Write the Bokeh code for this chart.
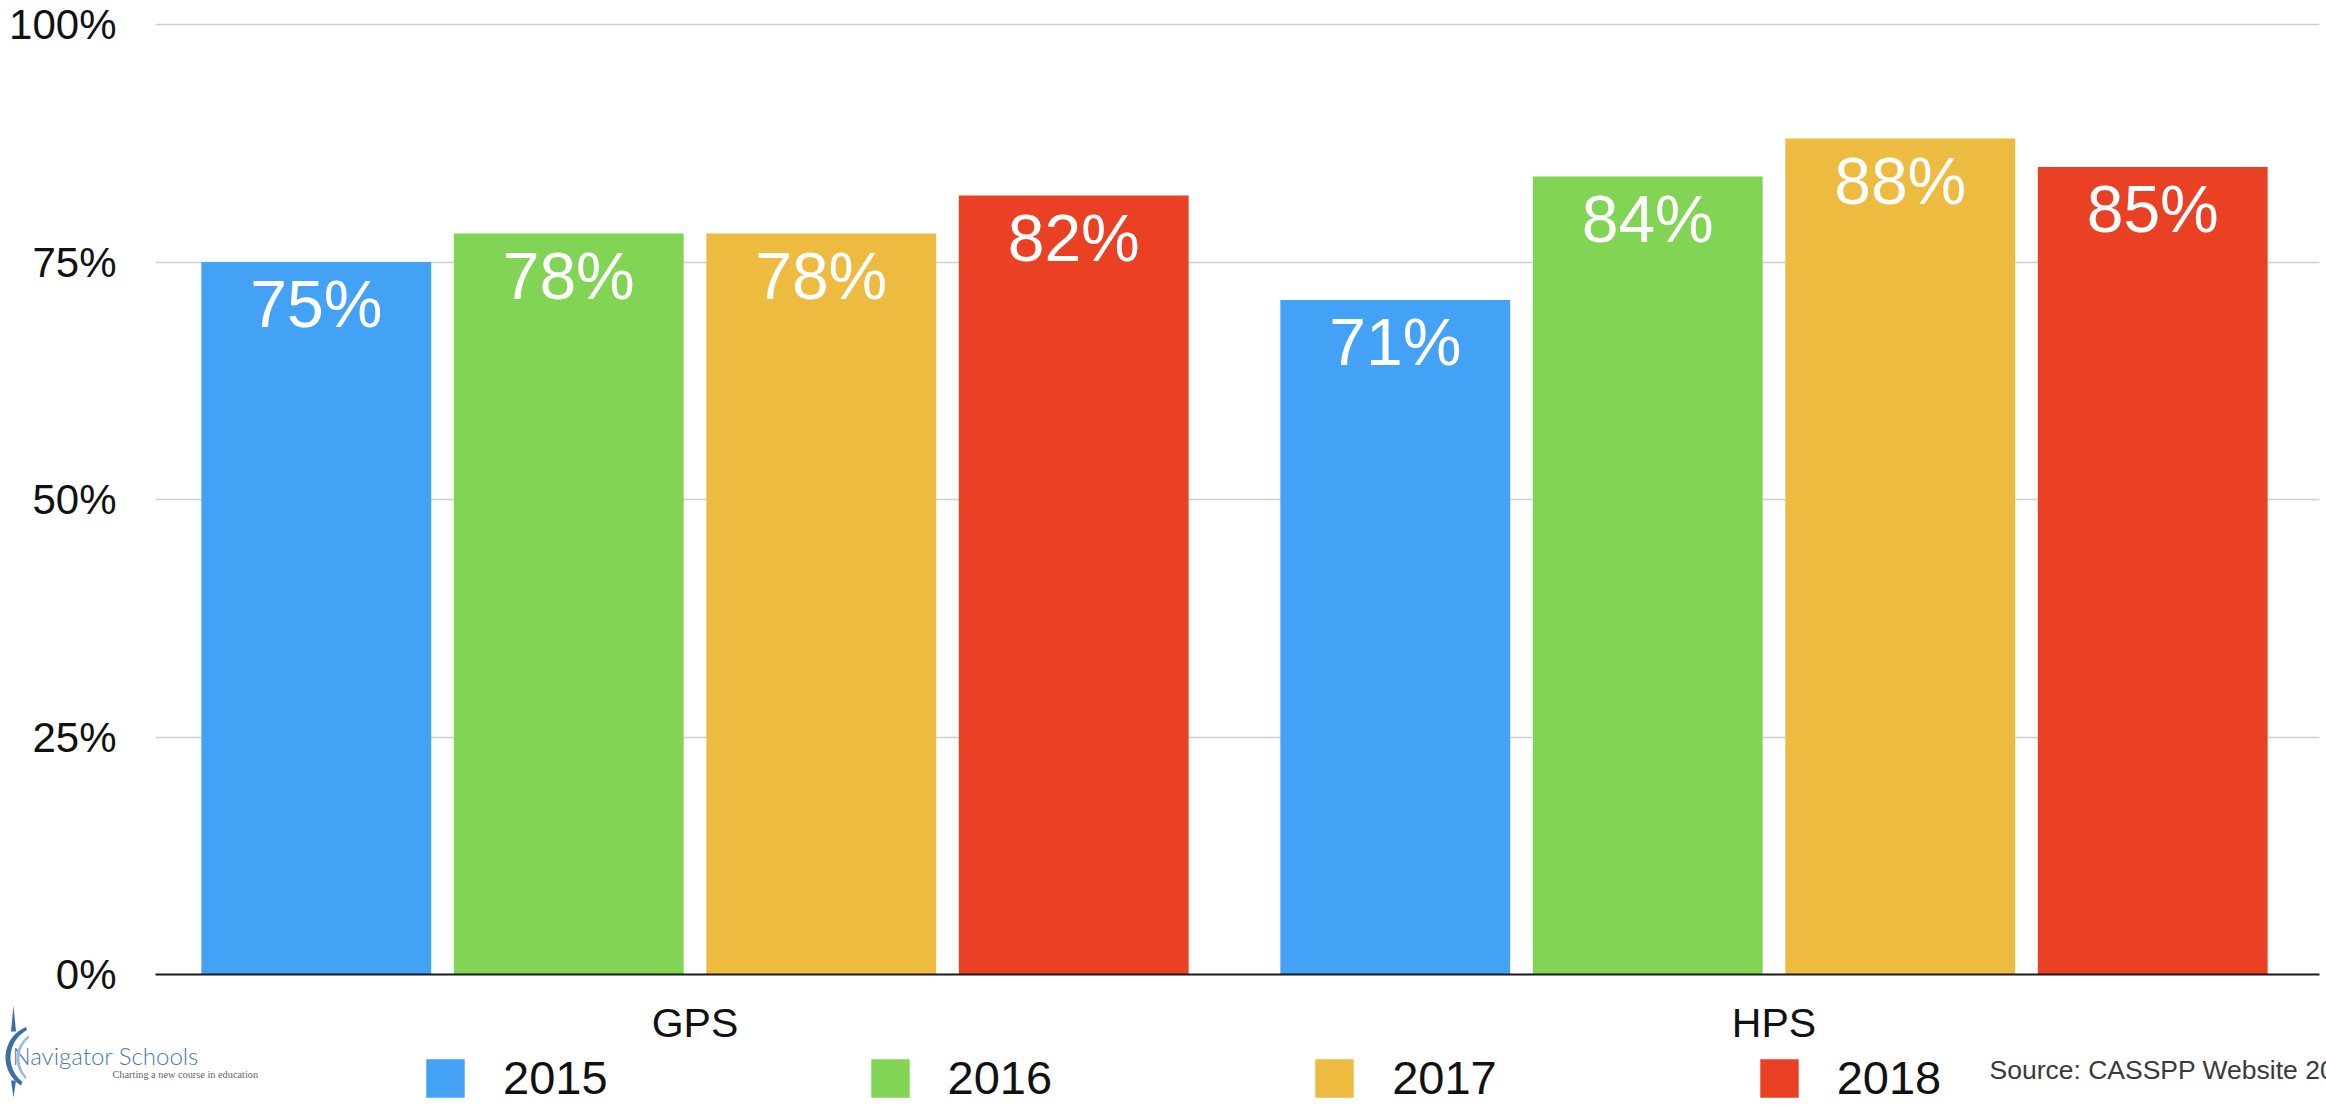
import numpy as np
from bokeh.plotting import figure
from bokeh.models import (Range1d, FixedTicker, PrintfTickFormatter,
                          Legend, LegendItem, Label, PolyAnnotation, ColumnDataSource)
from bokeh.transform import dodge
from bokeh.core.properties import value
from bokeh.embed import file_html
from bokeh.resources import INLINE

# ---- data ----
groups = ["GPS", "HPS"]
years = ["2015", "2016", "2017", "2018"]
pct_2015 = [75, 71]
pct_2016 = [78, 84]
pct_2017 = [78, 88]
pct_2018 = [82, 85]
y_ticks = [0, 25, 50, 75, 100]
source_note = "Source: CASSPP Website 2018"
logo_name = "Navigator Schools"
logo_tagline = "Charting a new course in education"

# ---- styles / layout ----
colors = ["#44A2F6", "#81D454", "#EDBB40", "#EA4125"]
offsets = [-0.351, -0.117, 0.117, 0.351]
FONT = "Liberation Sans"
W, H = 2326, 1107
X0_PX, UNIT_X = 155, 1079.0     # pixel of category-axis origin, px per category
Y0_PX, UNIT_Y = 974, 9.5        # pixel of 0 %, px per percent

p = figure(width=W, height=H,
           x_range=Range1d(-X0_PX / UNIT_X, (W - X0_PX) / UNIT_X),
           y_range=Range1d(-(H - Y0_PX) / UNIT_Y, Y0_PX / UNIT_Y),
           output_backend="svg", toolbar_location=None,
           min_border=0, min_border_left=0, min_border_right=0,
           min_border_top=0, min_border_bottom=0)
p.outline_line_color = None
p.background_fill_color = "white"
p.border_fill_color = "white"

centers = [i + 0.5 for i in range(len(groups))]
series = [pct_2015, pct_2016, pct_2017, pct_2018]
data = dict(gx=centers)
for yr, vals in zip(years, series):
    data["v" + yr] = vals
    data["t" + yr] = [f"{v}%" for v in vals]
src = ColumnDataSource(data)

items = []
for yr, col, off in zip(years, colors, offsets):
    r = p.vbar(x=dodge("gx", off), top="v" + yr, width=0.213,
               source=src, fill_color=col, line_color=None)
    p.text(x=dodge("gx", off), y="v" + yr, text="t" + yr, source=src,
           text_font=value(FONT), text_font_size="66px", text_color="white",
           text_align="center", text_baseline="middle", y_offset=42)
    items.append(LegendItem(label=yr, renderers=[r]))

n_groups = len(groups)
# axes (drawn inside the frame at fixed locations)
p.yaxis.fixed_location = 0
p.yaxis.ticker = FixedTicker(ticks=y_ticks)
p.yaxis.formatter = PrintfTickFormatter(format="%d%%")
p.yaxis.axis_line_color = None
p.yaxis.major_tick_line_color = None
p.yaxis.minor_tick_line_color = None
p.yaxis.major_label_text_font = FONT
p.yaxis.major_label_text_font_size = "42px"
p.yaxis.major_label_text_color = "#111111"
p.yaxis.major_label_standoff = 33

p.xaxis.fixed_location = 0
p.xaxis.bounds = (0, n_groups + 0.006)
p.xaxis.ticker = FixedTicker(ticks=centers)
p.xaxis.major_label_overrides = {c: g for c, g in zip(centers, groups)}
p.xaxis.axis_line_color = "#1a1a1a"
p.xaxis.axis_line_width = 2
p.xaxis.major_tick_line_color = None
p.xaxis.minor_tick_line_color = None
p.xaxis.major_label_text_font = FONT
p.xaxis.major_label_text_font_size = "41px"
p.xaxis.major_label_text_color = "#111111"
p.xaxis.major_label_standoff = 19

p.xgrid.grid_line_color = None
p.ygrid.ticker = FixedTicker(ticks=[t for t in y_ticks if t > 0])
p.ygrid.grid_line_color = "#cfcfcf"
p.ygrid.grid_line_width = 1.5
try:
    p.ygrid.cross_bounds = (0, n_groups + 0.006)
except Exception:
    p.ygrid.grid_line_color = None
    p.segment(x0=[0] * 4, x1=[n_groups] * 4, y0=[t for t in y_ticks if t > 0],
              y1=[t for t in y_ticks if t > 0], line_color="#cfcfcf", line_width=1.5,
              level="underlay")

legend = Legend(items=items, orientation="horizontal", location=(421, 2),
                padding=0, margin=0, spacing=258, glyph_width=48, glyph_height=48,
                label_standoff=34, label_text_font=FONT, label_text_font_size="47px",
                label_text_color="#111111", border_line_color=None,
                background_fill_alpha=0)
p.add_layout(legend)

# screen coords relative to frame bottom-left (= page bottom-left here)
def sy(y):
    return float(H - y)

p.add_layout(Label(x=1989, y=sy(1069), x_units="screen", y_units="screen",
                   text=source_note, text_font=FONT, text_font_size="26.5px",
                   text_color="#3a3a3a", text_baseline="middle"))

# logo
p.add_layout(Label(x=12, y=sy(1055), x_units="screen", y_units="screen",
                   text=logo_name, text_font="'Lato Light', Lato", text_font_size="24px",
                   text_color="#4A79B0", text_baseline="middle"))
p.add_layout(Label(x=112, y=sy(1074), x_units="screen", y_units="screen",
                   text=logo_tagline, text_font="Liberation Serif", text_font_size="10.3px",
                   text_color="#666666", text_baseline="middle"))

def to_frame(xs, ys):
    return [float(x) for x in xs], [sy(y) for y in ys]

def crescent(c_out, r_out, a_out, c_in, r_in, a_in, color):
    t1 = np.radians(np.linspace(a_out[0], a_out[1], 40))
    t2 = np.radians(np.linspace(a_in[1], a_in[0], 40))
    xs = np.concatenate([c_out[0] + r_out * np.cos(t1), c_in[0] + r_in * np.cos(t2)])
    ys = np.concatenate([c_out[1] - r_out * np.sin(t1), c_in[1] - r_in * np.sin(t2)])
    fx, fy = to_frame(xs, ys)
    p.add_layout(PolyAnnotation(xs=fx, ys=fy, xs_units="screen", ys_units="screen",
                                fill_color=color, fill_alpha=1, line_color=None))

# compass needle
nx, ny = to_frame([13, 10.5, 15.5], [1005, 1031, 1031])
p.add_layout(PolyAnnotation(xs=nx, ys=ny, xs_units="screen", ys_units="screen",
                            fill_color="#3D6FA6", fill_alpha=1, line_color=None))
nx, ny = to_frame([10.5, 15.5, 13], [1080, 1080, 1097])
p.add_layout(PolyAnnotation(xs=nx, ys=ny, xs_units="screen", ys_units="screen",
                            fill_color="#3D6FA6", fill_alpha=1, line_color=None))
# crescents
crescent((38, 1057), 33, (112, 238), (41, 1057), 31, (118, 232), "#3D6FA6")
crescent((44, 1058), 28, (125, 228), (46, 1058), 27, (130, 222), "#9DBBDD")

open("out.html", "w").write(file_html(p, INLINE))
